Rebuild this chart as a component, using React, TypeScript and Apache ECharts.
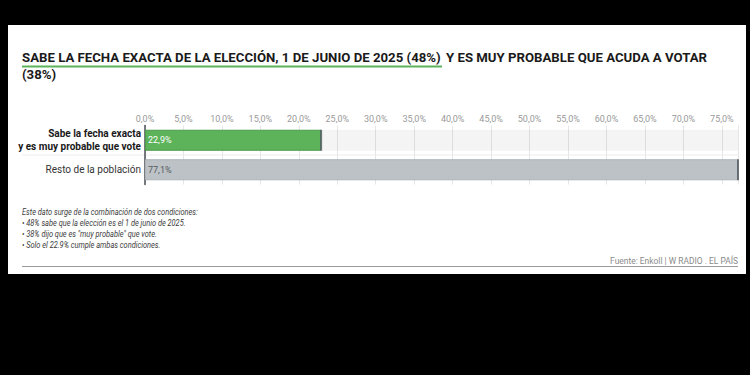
import { useEffect, useRef } from 'react';
import * as echarts from 'echarts';

const TITLE_PART1 = 'SABE LA FECHA EXACTA DE LA ELECCIÓN, 1 DE JUNIO DE 2025 (48%)';
const TITLE_PART2 = 'Y ES MUY PROBABLE QUE ACUDA A VOTAR';
const TITLE_LINE2 = '(38%)';

const categories = ['Sabe la fecha exacta\ny es muy probable que vote', 'Resto de la población'];
const values = [22.9, 77.1];
const barColors = ['#5cb35a', '#bcc2c6'];
const barBorders = ['#4e9c4c', '#adb3b7'];
const labelColors = ['#ffffff', '#555b60'];

const AXIS_MIN = 0;
const AXIS_INTERVAL = 5;

const notes = [
  'Este dato surge de la combinación de dos condiciones:',
  '• 48% sabe que la elección es el 1 de junio de 2025.',
  '• 38% dijo que es "muy probable" que vote.',
  '• Solo el 22.9% cumple ambas condiciones.',
];
const SOURCE = 'Fuente: Enkoll | W RADIO . EL PAÍS';

const FONT = 'Roboto, "Liberation Sans", sans-serif';

function measure(text: string, size: number, weight = 'normal', style = 'normal') {
  const c = document.createElement('canvas');
  const ctx = c.getContext('2d');
  if (!ctx) return text.length * size * 0.5;
  ctx.font = `${style} ${weight} ${size}px Roboto`;
  return ctx.measureText(text).width;
}

const fmt = (v: number) => v.toFixed(1).replace('.', ',') + '%';

export default function App() {
  const ref = useRef<HTMLDivElement>(null);

  useEffect(() => {
    if (!ref.current) return;
    const chart = echarts.init(ref.current, undefined, { renderer: 'svg' });

    const titleSize = 13.5;
    const t1w = measure(TITLE_PART1, titleSize, 'bold');
    const titleScale = 419 / t1w;
    const noteSize = 8.8;
    const noteScale = 176 / measure(notes[0], noteSize, 'normal', 'italic');
    const srcSize = 9;
    const srcScale = 128 / measure(SOURCE, srcSize);

    const titleStyle = {
      fontSize: titleSize,
      fontWeight: 'bold',
      fontFamily: FONT,
      fill: '#1a1a1a',
      verticalAlign: 'middle',
      align: 'left',
    };

    const graphic: any[] = [
      {
        type: 'rect',
        z: -100,
        silent: true,
        shape: { x: 8, y: 25, width: 738, height: 249 },
        style: { fill: '#ffffff' },
      },
      {
        type: 'text',
        x: 22,
        y: 57,
        scaleX: titleScale,
        style: { ...titleStyle, text: TITLE_PART1 },
      },
      {
        type: 'text',
        x: 446,
        y: 57,
        scaleX: titleScale,
        style: { ...titleStyle, text: TITLE_PART2 },
      },
      {
        type: 'text',
        x: 22,
        y: 74.5,
        scaleX: titleScale,
        style: { ...titleStyle, text: TITLE_LINE2 },
      },
      {
        type: 'line',
        shape: { x1: 22, y1: 66.5, x2: 442, y2: 66.5 },
        style: { stroke: '#5cb35a', lineWidth: 2 },
      },
      {
        type: 'line',
        z: -50,
        shape: { x1: 22, y1: 155, x2: 738, y2: 155 },
        style: { stroke: '#ececec', lineWidth: 1 },
      },
      ...notes.map((n, i) => ({
        type: 'text',
        x: 22,
        y: 212 + i * 11,
        scaleX: noteScale,
        style: {
          text: n,
          fontSize: noteSize,
          fontStyle: 'italic',
          fontFamily: FONT,
          fill: '#3c3c3c',
          verticalAlign: 'middle',
          align: 'left',
        },
      })),
      {
        type: 'text',
        x: 738,
        y: 261,
        scaleX: srcScale,
        style: {
          text: SOURCE,
          fontSize: srcSize,
          fontFamily: FONT,
          fill: '#8a8a8a',
          verticalAlign: 'middle',
          align: 'right',
        },
      },
      {
        type: 'line',
        shape: { x1: 22, y1: 266.5, x2: 738, y2: 266.5 },
        style: { stroke: '#9a9a9a', lineWidth: 1.2 },
      },
    ];

    chart.setOption({
      animation: false,
      backgroundColor: '#000000',
      textStyle: { fontFamily: FONT },
      grid: { left: 145, right: 12, top: 125.5, height: 59 },
      xAxis: {
        type: 'value',
        position: 'top',
        min: AXIS_MIN,
        max: 'dataMax',
        interval: AXIS_INTERVAL,
        axisLine: { show: false },
        axisTick: { show: false },
        splitLine: { show: true, lineStyle: { color: '#e6e6e6', width: 1 } },
        axisLabel: {
          show: true,
          margin: 2,
          fontSize: 9,
          color: '#9a9a9a',
          fontFamily: FONT,
          showMaxLabel: false,
          formatter: (v: number) => fmt(v),
        },
      },
      yAxis: {
        type: 'category',
        inverse: true,
        data: categories,
        axisTick: { show: false },
        axisLine: { show: true, lineStyle: { color: '#4a4f54', width: 1.5 } },
        splitLine: { show: false },
        axisLabel: {
          margin: 4,
          formatter: (v: string, i: number) =>
            i === 0
              ? v
                  .split('\n')
                  .map((s) => `{b|${s}}`)
                  .join('\n')
              : `{n|${v}}`,
          rich: {
            b: { fontWeight: 'bold', fontSize: 10, color: '#1a1a1a', lineHeight: 13, fontFamily: FONT },
            n: { fontSize: 10, color: '#333333', lineHeight: 13, fontFamily: FONT },
          },
        },
      },
      series: [
        {
          type: 'bar',
          barWidth: 21,
          showBackground: true,
          backgroundStyle: { color: 'rgba(0,0,0,0.045)' },
          data: values.map((v, i) => ({
            value: v,
            itemStyle: { color: barColors[i], borderColor: barBorders[i], borderWidth: 1 },
            label: { color: labelColors[i] },
          })),
          label: {
            show: true,
            position: 'insideLeft',
            distance: 3,
            fontSize: 9,
            fontFamily: FONT,
            formatter: (p: any) => fmt(p.value),
          },
        },
        {
          type: 'scatter',
          symbol: 'rect',
          symbolSize: [2, 21],
          z: 3,
          itemStyle: { color: '#4d565e' },
          data: values.map((v, i) => [v, i]),
          silent: true,
        },
      ],
      graphic,
    });

    return () => chart.dispose();
  }, []);

  return (
    <div
      ref={ref}
      style={{ position: 'fixed', left: 0, top: 0, width: 750, height: 375 }}
    />
  );
}
